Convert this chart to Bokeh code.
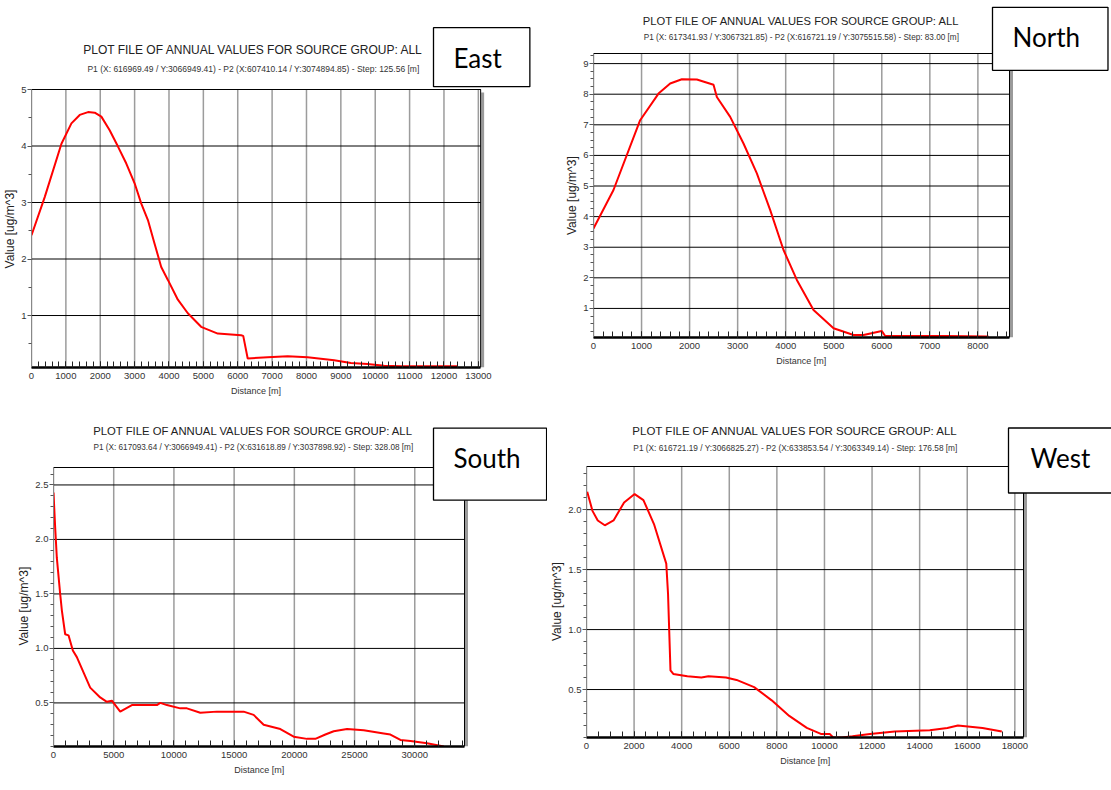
from bokeh.plotting import figure
from bokeh.layouts import column, row
from bokeh.models import Label, FixedTicker, NumeralTickFormatter, BasicTickFormatter, Range1d
from bokeh.embed import file_html
from bokeh.resources import INLINE
import numpy as np

FONT = "Liberation Sans"
MAIN_TITLE = "PLOT FILE OF ANNUAL VALUES FOR SOURCE GROUP: ALL"
X_LABEL = "Distance [m]"
Y_LABEL = "Value [ug/m^3]"
NBSP = "\u00a0"

# ---------------- East ----------------
east_sub = "P1 (X: 616969.49 / Y:3066949.41) - P2 (X:607410.14 / Y:3074894.85) - Step: 125.56 [m]"
east_dist = [0, 387, 871, 1161, 1403, 1645, 1839, 2032, 2274, 2516, 2758, 3000, 3194, 3387,
             3581, 3774, 3968, 4258, 4548, 4935, 5419, 6097, 6160, 6290, 6871, 7452, 8032,
             8806, 9290, 9774, 10258, 10742, 12387]
east_val = [2.42, 3.10, 4.04, 4.40, 4.55, 4.60, 4.59, 4.52, 4.28, 3.99, 3.69, 3.34, 2.98, 2.69,
            2.27, 1.86, 1.63, 1.28, 1.04, 0.80, 0.68, 0.65, 0.64, 0.24, 0.26, 0.28, 0.26,
            0.21, 0.16, 0.14, 0.11, 0.10, 0.10]
east_xticks = [0, 1000, 2000, 3000, 4000, 5000, 6000, 7000, 8000, 9000, 10000, 11000, 12000, 13000]
east_yticks = [1, 2, 3, 4, 5]
east_xlim = (0, 13067)
east_ylim = (0.08, 5.0)

# ---------------- North ----------------
north_sub = "P1 (X: 617341.93 / Y:3067321.85) - P2 (X:616721.19 / Y:3075515.58) - Step: 83.00 [m]"
north_dist = [0, 416, 971, 1353, 1596, 1839, 2151, 2498, 2567, 2845, 3122, 3400, 3678, 3955,
              4232, 4579, 4996, 5412, 5620, 6001, 6071, 6453, 7355, 8222]
north_val = [3.61, 4.87, 7.15, 8.02, 8.35, 8.49, 8.48, 8.31, 7.91, 7.26, 6.39, 5.41, 4.21, 2.91,
             1.93, 0.95, 0.35, 0.13, 0.13, 0.26, 0.10, 0.10, 0.10, 0.08]
north_xticks = [0, 1000, 2000, 3000, 4000, 5000, 6000, 7000, 8000]
north_yticks = [1, 2, 3, 4, 5, 6, 7, 8, 9]
north_xlim = (0, 8658)
north_ylim = (0.05, 9.33)

# ---------------- South ----------------
south_sub = "P1 (X: 617093.64 / Y:3066949.41) - P2 (X:631618.89 / Y:3037898.92) - Step: 328.08 [m]"
south_dist = [0, 139, 277, 554, 693, 970, 1247, 1607, 1939, 3047, 3878, 4432, 4848, 5540, 6510,
              8587, 8864, 9418, 10526, 11080, 12188, 13573, 15790, 16620, 17451, 18837, 19945,
              21053, 21745, 22576, 23269, 24377, 25762, 27424, 27978, 28809, 29640, 31025, 32410]
south_val = [2.43, 2.11, 1.83, 1.50, 1.35, 1.13, 1.12, 0.98, 0.92, 0.64, 0.55, 0.51, 0.52, 0.42,
             0.48, 0.48, 0.50, 0.48, 0.45, 0.45, 0.41, 0.42, 0.42, 0.39, 0.30, 0.26, 0.19,
             0.17, 0.17, 0.21, 0.24, 0.26, 0.25, 0.22, 0.21, 0.16, 0.15, 0.13, 0.10]
south_xticks = [0, 5000, 10000, 15000, 20000, 25000, 30000]
south_yticks = [0.5, 1.0, 1.5, 2.0, 2.5]
south_xlim = (0, 34130)
south_ylim = (0.10, 2.66)

# ---------------- West ----------------
west_sub = "P1 (X: 616721.19 / Y:3066825.27) - P2 (X:633853.54 / Y:3063349.14) - Step: 176.58 [m]"
west_dist = [30, 251, 473, 768, 1137, 1580, 2023, 2392, 2835, 3352, 3426, 3529, 3647, 4238, 4828,
             5124, 5862, 6305, 7043, 7782, 8520, 9258, 9849, 10218, 10366, 10735, 11178, 11916,
             12950, 14426, 15164, 15607, 16641, 17453]
west_val = [2.15, 1.99, 1.91, 1.87, 1.91, 2.06, 2.13, 2.08, 1.88, 1.55, 1.30, 0.66, 0.63, 0.61,
            0.60, 0.61, 0.60, 0.58, 0.52, 0.41, 0.28, 0.18, 0.13, 0.13, 0.10, 0.10, 0.11, 0.13,
            0.15, 0.16, 0.18, 0.20, 0.18, 0.15]
west_xticks = [0, 2000, 4000, 6000, 8000, 10000, 12000, 14000, 16000, 18000]
west_yticks = [0.5, 1.0, 1.5, 2.0]
west_xlim = (0, 18364)
west_ylim = (0.10, 2.36)

XLAB_SIZE = 9.0
YLAB_SIZE = 12.0


def panel(width, height, left, bottom, plot_w, plot_top, xlim, ylim, dist, vals,
          xticks, xminor_step, yticks, yminor_step, yfmt,
          sub, title_x, title_y, sub_y, title_size, sub_size,
          box_text, box_x, box_y, box_pad):
    # frame covers everything right of the y axis and above the x axis;
    # the plot box is the lower-left part of it
    frame_w = width - left
    frame_h = height - bottom
    plot_h = frame_h - plot_top
    x_end = xlim[0] + (xlim[1] - xlim[0]) * frame_w / plot_w
    y_end = ylim[0] + (ylim[1] - ylim[0]) * frame_h / plot_h
    px_x = (xlim[1] - xlim[0]) / plot_w

    p = figure(width=width, height=height, output_backend="svg", toolbar_location=None,
               x_range=Range1d(xlim[0], x_end), y_range=Range1d(ylim[0], y_end),
               min_border_left=left, min_border_right=0,
               min_border_top=0, min_border_bottom=bottom)
    p.background_fill_color = "white"
    p.border_fill_color = "white"
    p.outline_line_color = None
    p.xgrid.grid_line_color = None
    p.ygrid.grid_line_color = None

    nx = len(xticks)
    ny = len(yticks)
    p.segment(x0=xticks, y0=[ylim[0]] * nx, x1=xticks, y1=[ylim[1]] * nx,
              line_color="#9c9c9c", line_width=1.5)
    p.segment(x0=[xlim[0]] * ny, y0=yticks, x1=[xlim[1]] * ny, y1=yticks,
              line_color="black", line_width=1)
    p.quad(left=[xlim[1] + 0.5 * px_x], right=[xlim[1] + 3.5 * px_x],
           bottom=[ylim[0]], top=[ylim[1] - (ylim[1] - ylim[0]) * 3 / plot_h],
           fill_color="#9a9a9a", line_color=None)
    p.quad(left=[xlim[0]], right=[xlim[1]], bottom=[ylim[0]], top=[ylim[1]],
           fill_color=None, line_color="black", line_width=1)

    p.line(dist, vals, line_color="#ff0000", line_width=2)

    xminor = list(np.arange(xlim[0], xlim[1], xminor_step))
    yminor = list(np.arange(0, ylim[1], yminor_step))
    p.xaxis.ticker = FixedTicker(ticks=xticks, minor_ticks=xminor)
    p.yaxis.ticker = FixedTicker(ticks=yticks, minor_ticks=yminor)
    p.xaxis.formatter = BasicTickFormatter(use_scientific=False)
    if yfmt:
        p.yaxis.formatter = NumeralTickFormatter(format=yfmt)

    # axis labels are centred on the whole frame; pad them with no-break
    # spaces so that the visible words sit under / beside the plot box
    nx_pad = int(round((frame_w - plot_w) / (0.278 * XLAB_SIZE)))
    ny_pad = int(round(plot_top / (0.278 * YLAB_SIZE)))

    xa = p.xaxis[0]
    xa.bounds = xlim
    xa.axis_line_color = "black"
    xa.axis_line_width = 2.5
    xa.major_tick_in = 6
    xa.major_tick_out = 0
    xa.minor_tick_in = 6
    xa.minor_tick_out = 0
    xa.major_tick_line_color = "#222"
    xa.minor_tick_line_color = "#222"
    xa.major_label_standoff = 5
    xa.major_label_text_font = FONT
    xa.major_label_text_font_size = "9.5px"
    xa.major_label_text_color = "#333"
    xa.axis_label = X_LABEL + NBSP * nx_pad
    xa.axis_label_standoff = 4
    xa.axis_label_text_font = FONT
    xa.axis_label_text_font_size = f"{XLAB_SIZE}px"
    xa.axis_label_text_font_style = "normal"
    xa.axis_label_text_color = "#333"

    ya = p.yaxis[0]
    ya.bounds = ylim
    ya.axis_line_color = "#888"
    ya.axis_line_width = 1
    ya.major_tick_in = 0
    ya.major_tick_out = 4
    ya.minor_tick_in = 0
    ya.minor_tick_out = 3
    ya.major_tick_line_color = "#555"
    ya.minor_tick_line_color = "#555"
    ya.major_label_standoff = 1
    ya.major_label_text_font = FONT
    ya.major_label_text_font_size = "9.5px"
    ya.major_label_text_color = "#333"
    ya.axis_label = Y_LABEL + NBSP * ny_pad
    ya.axis_label_standoff = 1
    ya.axis_label_text_font = FONT
    ya.axis_label_text_font_size = f"{YLAB_SIZE}px"
    ya.axis_label_text_font_style = "normal"
    ya.axis_label_text_color = "#222"

    p.add_layout(Label(x=title_x, y=title_y, x_units="canvas", y_units="canvas",
                       text=MAIN_TITLE, text_align="center", text_baseline="middle",
                       text_font=FONT, text_font_size=title_size, text_color="#222"))
    p.add_layout(Label(x=title_x, y=sub_y, x_units="canvas", y_units="canvas",
                       text=sub, text_align="center", text_baseline="middle",
                       text_font=FONT, text_font_size=sub_size, text_color="#333"))
    p.add_layout(Label(x=box_x, y=box_y, x_units="canvas", y_units="canvas",
                       text=box_text, text_align="left", text_baseline="middle",
                       text_font="Lato", text_font_size="26px", text_color="black",
                       border_line_color="black", border_line_width=1.3,
                       background_fill_color="white", background_fill_alpha=1.0,
                       padding=box_pad))
    return p


east = panel(555, 412, 30, 45, 450, 89, east_xlim, east_ylim, east_dist, east_val,
             east_xticks, 200, east_yticks, 0.5, None,
             east_sub, 253, 49, 68, "12px", "8.5px",
             "East", 433, 56.7, dict(left=20, right=28, top=14, bottom=13))

north = panel(556, 412, 38, 75, 416, 53, north_xlim, north_ylim, north_dist, north_val,
              north_xticks, 200, north_yticks, 0.25, None,
              north_sub, 246, 20, 37, "11.2px", "8.2px",
              "North", 437, 38.3, dict(left=20, right=28, top=14, bottom=17))

south = panel(547, 378, 53, 44, 411, 55, south_xlim, south_ylim, south_dist, south_val,
              south_xticks, 1000, south_yticks, 0.1, "0.0",
              south_sub, 253, 18, 35, "11.3px", "8.2px",
              "South", 433, 51.7, dict(left=20, right=26, top=14, bottom=26))

west = panel(564, 378, 39, 53, 437, 54, west_xlim, west_ylim, west_dist, west_val,
             west_xticks, 500, west_yticks, 0.1, "0.0",
             west_sub, 248, 18, 35, "11.5px", "8.3px",
             "West", 461, 48, dict(left=22, right=30, top=14, bottom=19))

layout = column(row(column(east), column(north)), row(column(south), column(west)))
open("out.html", "w").write(file_html(layout, INLINE))
